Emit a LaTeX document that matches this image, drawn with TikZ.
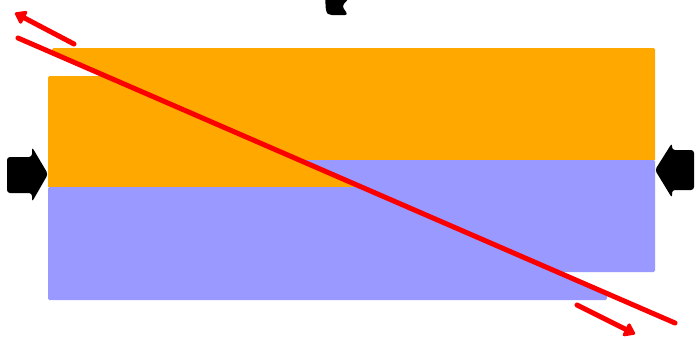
\documentclass[tikz,border=0pt]{standalone}
\usetikzlibrary{arrows.meta}
\definecolor{rock1}{RGB}{255,168,0}
\definecolor{rock2}{RGB}{153,153,255}
\definecolor{faultred}{RGB}{250,0,0}
\tikzset{
  layer/.style={rounded corners=1.5pt},
  push/.style={fill=black, rounded corners=3pt},
  fault/.style={draw=faultred, line width=5pt, line cap=round},
  slip/.style={draw=faultred, line width=5pt, line cap=round, -{Triangle[length=12pt,width=16pt,round]}}
}
\begin{document}
\begin{tikzpicture}[x=1pt,y=-1pt]
\useasboundingbox (0,0) rectangle (700,338);
\fill[white] (0,0) rectangle (700,338);
% lower-left block (below the fault)
\begin{scope}
\clip (0,30.2) -- (700,333.8) -- (700,338) -- (0,338) -- cycle;
\fill[rock1,layer] (48,76) rectangle (607,188);
\fill[rock2,layer] (48,187) rectangle (607,300);
\end{scope}
% upper-right block (above the fault)
\begin{scope}
\clip (0,30.2) -- (700,333.8) -- (700,0) -- (0,0) -- cycle;
\fill[rock1,layer] (52,48) rectangle (655,161);
\fill[rock2,layer] (52,160) rectangle (655,272);
\end{scope}
% fault line and slip arrows
\coordinate (f1) at (18,38);
\coordinate (f2) at (675,323);
\draw[fault] (f1) -- (f2);
\coordinate (s1a) at (74,44);
\coordinate (s1b) at (15,13);
\draw[slip] (s1a) -- (s1b);
\coordinate (s2a) at (577,305);
\coordinate (s2b) at (635,334);
\draw[slip] (s2a) -- (s2b);
% compression arrows
\fill[push] (7,157) -- (32,157) -- (32,147) -- (48,174) -- (32,202) -- (32,193) -- (7,193) -- cycle;
\fill[push] (694,150) -- (672,150) -- (672,143) -- (655,170) -- (672,198) -- (672,190) -- (694,190) -- cycle;
\fill[push] (325,-4) -- (351,-4) -- (342,6) -- (348,15) -- (329,15) -- (326,12) -- cycle;
\end{tikzpicture}
\end{document}
